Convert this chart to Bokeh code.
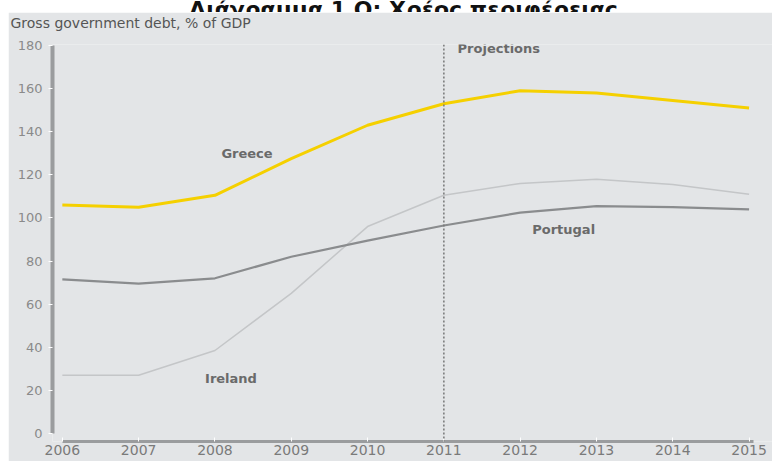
from bokeh.plotting import figure
from bokeh.models import Range1d, Label, Span, FixedTicker, Spacer, Title
from bokeh.layouts import column, row
from bokeh.embed import file_html
from bokeh.resources import INLINE

# ---- data ----
years = [2006, 2007, 2008, 2009, 2010, 2011, 2012, 2013, 2014, 2015]
greece = [106, 105, 110.5, 127.5, 143, 153, 159, 158, 154.5, 151]
portugal = [71.5, 69.5, 72, 82, 89.5, 96.5, 102.5, 105.5, 105, 104]
ireland = [27, 27, 38.5, 65, 96, 110.5, 116, 118, 115.5, 111]
y_ticks = [0, 20, 40, 60, 80, 100, 120, 140, 160, 180]
projection_start = 2011

title_text = "Διάγραμμα 1 Ο: Χρέος περιφέρειας"
y_title = "Gross government debt, % of GDP"

PANEL = "#E3E5E7"
FONT = "DejaVu Sans"

# ---- top title strip (cut off at the top as in the reference) ----
t = figure(width=772, height=12, x_range=Range1d(0, 772), y_range=Range1d(0, 12),
           toolbar_location=None, output_backend="svg", min_border=0,
           background_fill_color="white", border_fill_color="white")
t.axis.visible = False
t.grid.visible = False
t.outline_line_color = None
t.add_layout(Label(x=403, y=3, text=title_text, text_align="center",
                   text_baseline="alphabetic", text_font=FONT,
                   text_font_size="22px", text_font_style="bold",
                   text_color="#111111"))

# ---- main chart ----
p = figure(width=764, height=449,
           x_range=Range1d(2005.871, 2015.307), y_range=Range1d(-3.71, 180.46),
           toolbar_location=None, output_backend="svg",
           min_border_left=44, min_border_right=0, min_border_top=32, min_border_bottom=20,
           background_fill_color=PANEL, border_fill_color=PANEL)
p.outline_line_color = None
p.grid.visible = False

# axis title at the top-left corner of the panel
p.title.text = y_title
p.title.align = "left"
p.title.offset = -42
p.title.standoff = 0
p.title.text_font = FONT
p.title.text_font_size = "14px"
p.title.text_font_style = "normal"
p.title.text_color = "#555555"
# blank spacer between the axis title and the frame
p.above.insert(0, Title(text=" ", text_font_size="11.5px", standoff=0))

# y axis
ya = p.yaxis[0]
ya.ticker = FixedTicker(ticks=y_ticks)
ya.bounds = (0, 180)
ya.axis_line_color = "#9A9C9E"
ya.axis_line_width = 4
ya.major_tick_line_color = "white"
ya.major_tick_out = 4
ya.major_tick_in = 0
ya.minor_tick_line_color = None
ya.major_label_standoff = 6
ya.major_label_text_font = FONT
ya.major_label_text_font_size = "13px"
ya.major_label_text_color = "#8A8A8A"

# x axis
xa = p.xaxis[0]
xa.ticker = FixedTicker(ticks=years)
xa.bounds = (2006, 2015.06)
xa.axis_line_color = "#9A9C9E"
xa.axis_line_width = 3
xa.major_tick_line_color = "white"
xa.major_tick_in = 4
xa.major_tick_out = 0
xa.minor_tick_line_color = None
xa.major_label_standoff = 3
xa.major_label_text_font = FONT
xa.major_label_text_font_size = "14px"
xa.major_label_text_color = "#7A7A7A"

# projections divider
p.add_layout(Span(location=projection_start, dimension="height", line_color="#777777",
                  line_width=1.5, line_dash="2 2"))

# series
p.line(years, ireland, line_color="#C4C6C8", line_width=1.5)
p.line(years, portugal, line_color="#8A8C8E", line_width=2.2)
p.line(years, greece, line_color="#F5D000", line_width=3)

# labels
lab = dict(text_font=FONT, text_font_size="13px", text_font_style="bold",
           text_color="#6A6A6A", text_baseline="middle")
p.add_layout(Label(x=2008.42, y=129.9, text="Greece", text_align="center", **lab))
p.add_layout(Label(x=2012.57, y=94.6, text="Portugal", text_align="center", **lab))
p.add_layout(Label(x=2008.21, y=25.5, text="Ireland", text_align="center", **lab))
p.add_layout(Label(x=2011.18, y=178.6, text="Projections", text_align="left", **lab))

layout = column(t, row(Spacer(width=8, height=449), p, spacing=0), spacing=0)

open("out.html", "w").write(file_html(layout, INLINE))
